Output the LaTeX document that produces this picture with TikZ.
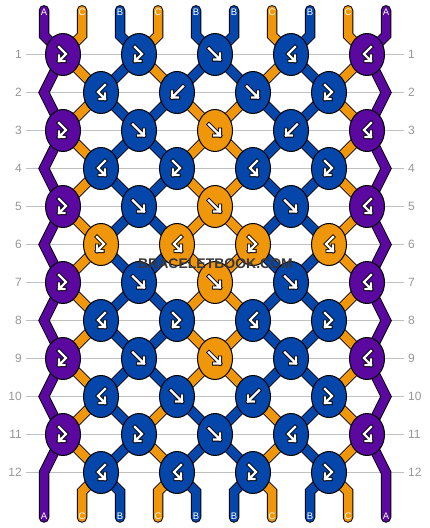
\documentclass[tikz,border=0pt]{standalone}
\usepackage{fontspec}
\setmainfont{Liberation Sans}
\usetikzlibrary{shapes.geometric}
\definecolor{cA}{RGB}{90,8,160}
\definecolor{cB}{RGB}{4,70,170}
\definecolor{cC}{RGB}{240,150,10}
\definecolor{gridgray}{RGB}{192,192,192}
\definecolor{numgray}{RGB}{150,150,150}
\definecolor{wmgray}{RGB}{55,55,60}
\pgfdeclarelayer{gridlayer}
\pgfdeclarelayer{ropelayer}
\pgfsetlayers{gridlayer,ropelayer,main}
\newcommand\bbglyph[1]{\draw[gout] #1; \draw[gin] #1;}
\tikzset{
  gout/.style={draw=black,line width=4pt,line cap=rect,line join=miter},
  gin/.style={draw=white,line width=2.2pt,line cap=rect,line join=miter},
  pics/glyphF/.style={code={\bbglyph{(-6,-6)--(5,5) (5,-1)--(5,5)--(-1,5)}}},
  pics/glyphB/.style={code={\bbglyph{(6,-6)--(-5,5) (-5,-1)--(-5,5)--(1,5)}}},
  pics/glyphFB/.style={code={\bbglyph{(-4,-7.5)--(3,-0.5)--(-4,6.5) (-4,1)--(-4,6.5)--(1.5,6.5)}}},
  pics/glyphBF/.style={code={\bbglyph{(4,-7.5)--(-3,-0.5)--(4,6.5) (4,1)--(4,6.5)--(-1.5,6.5)}}},
}
\newcommand\bbknot[4]{%
  \pgfmathsetmacro\kx{ifthenelse(mod(#1,2)==1,63,101)+76*(#2-1)}%
  \pgfmathsetmacro\ky{54.5+38*(#1-1)}%
  \node[bbknotstyle,fill=#3] (k-#1-#2) at (\kx,\ky) {};
  \pic at (k-#1-#2.center) {#4};
}
\newcommand\bbrope[3][]{\draw[ropeout,#1] #3; \draw[ropein,draw=#2,#1] #3;}
\begin{document}
\begin{tikzpicture}[x=1pt,y=-1pt,
  bbknotstyle/.style={ellipse,draw=black,line width=1pt,minimum width=35pt,minimum height=42pt,inner sep=0pt},
  ropeout/.style={draw=black,line width=10.5pt,line join=miter},
  ropein/.style={line width=8.5pt,line join=miter},
  strlab/.style={text=white,font=\fontsize{9.5}{9.5}\selectfont,inner sep=0pt},
  numlab/.style={text=numgray,font=\fontsize{12}{12}\selectfont,inner sep=0pt},
  gridline/.style={draw=gridgray,line width=1pt},
  wm/.style={font=\fontsize{14}{14}\selectfont\bfseries,inner sep=0pt},
]
\useasboundingbox (0,0) rectangle (430,528);

% knots
\bbknot{1}{1}{cA}{glyphFB}
\bbknot{1}{2}{cB}{glyphFB}
\bbknot{1}{3}{cB}{glyphF}
\bbknot{1}{4}{cB}{glyphBF}
\bbknot{1}{5}{cA}{glyphBF}
\bbknot{2}{1}{cB}{glyphBF}
\bbknot{2}{2}{cB}{glyphB}
\bbknot{2}{3}{cB}{glyphF}
\bbknot{2}{4}{cB}{glyphFB}
\bbknot{3}{1}{cA}{glyphFB}
\bbknot{3}{2}{cB}{glyphF}
\bbknot{3}{3}{cC}{glyphF}
\bbknot{3}{4}{cB}{glyphB}
\bbknot{3}{5}{cA}{glyphBF}
\bbknot{4}{1}{cB}{glyphBF}
\bbknot{4}{2}{cB}{glyphFB}
\bbknot{4}{3}{cB}{glyphBF}
\bbknot{4}{4}{cB}{glyphFB}
\bbknot{5}{1}{cA}{glyphFB}
\bbknot{5}{2}{cB}{glyphF}
\bbknot{5}{3}{cC}{glyphF}
\bbknot{5}{4}{cB}{glyphF}
\bbknot{5}{5}{cA}{glyphBF}
\bbknot{6}{1}{cC}{glyphFB}
\bbknot{6}{2}{cC}{glyphBF}
\bbknot{6}{3}{cC}{glyphFB}
\bbknot{6}{4}{cC}{glyphBF}
\bbknot{7}{1}{cA}{glyphFB}
\bbknot{7}{2}{cB}{glyphF}
\bbknot{7}{3}{cC}{glyphF}
\bbknot{7}{4}{cB}{glyphF}
\bbknot{7}{5}{cA}{glyphBF}
\bbknot{8}{1}{cB}{glyphBF}
\bbknot{8}{2}{cB}{glyphFB}
\bbknot{8}{3}{cB}{glyphBF}
\bbknot{8}{4}{cB}{glyphFB}
\bbknot{9}{1}{cA}{glyphFB}
\bbknot{9}{2}{cB}{glyphF}
\bbknot{9}{3}{cC}{glyphF}
\bbknot{9}{4}{cB}{glyphF}
\bbknot{9}{5}{cA}{glyphBF}
\bbknot{10}{1}{cB}{glyphBF}
\bbknot{10}{2}{cB}{glyphF}
\bbknot{10}{3}{cB}{glyphB}
\bbknot{10}{4}{cB}{glyphFB}
\bbknot{11}{1}{cA}{glyphFB}
\bbknot{11}{2}{cB}{glyphFB}
\bbknot{11}{3}{cB}{glyphF}
\bbknot{11}{4}{cB}{glyphBF}
\bbknot{11}{5}{cA}{glyphBF}
\bbknot{12}{1}{cB}{glyphBF}
\bbknot{12}{2}{cB}{glyphBF}
\bbknot{12}{3}{cB}{glyphFB}
\bbknot{12}{4}{cB}{glyphFB}

% row numbers and grid lines
\foreach \r in {1,...,12}{
  \pgfmathsetmacro\yy{54.5+38*(\r-1)}
  \node[numlab,anchor=east] (nl-\r) at (22,\yy) {\r};
  \node[numlab,anchor=west] (nr-\r) at (408,\yy) {\r};
  \coordinate (gl-\r) at (26,\yy);
  \coordinate (gr-\r) at (404,\yy);
  \begin{pgfonlayer}{gridlayer}
    \draw[gridline] (gl-\r) -- (gr-\r);
  \end{pgfonlayer}
}

% edge bend coordinates
\foreach \r in {2,4,...,12}{
  \pgfmathsetmacro\yy{54.5+38*(\r-1)}
  \coordinate (eL-\r) at (44,\yy);
  \coordinate (eR-\r) at (386,\yy);
}
% top and bottom string ends
\foreach \p in {1,...,10}{
  \pgfmathsetmacro\xx{44+38*(\p-1)}
  \coordinate (t-\p) at (\xx,10.3);
  \coordinate (tb-\p) at (\xx,35.5);
  \coordinate (b-\p) at (\xx,517.5);
  \coordinate (bb-\p) at (\xx,491.5);
}

\begin{pgfonlayer}{ropelayer}
% diagonal segments between rows
\foreach \r/\ca/\cb in {1/cC/cB,2/cB/cC,3/cB/cC,4/cB/cC,5/cB/cC,6/cB/cC,7/cB/cC,8/cB/cC,9/cB/cC,10/cC/cB,11/cC/cB}{
  \pgfmathtruncatemacro\s{\r+1}
  \ifodd\r
    \bbrope{cC}{(k-\r-1.center) -- (k-\s-1.center)}
    \bbrope{cB}{(k-\r-2.center) -- (k-\s-1.center)}
    \bbrope{\ca}{(k-\r-2.center) -- (k-\s-2.center)}
    \bbrope{\cb}{(k-\r-3.center) -- (k-\s-2.center)}
    \bbrope{\cb}{(k-\r-3.center) -- (k-\s-3.center)}
    \bbrope{\ca}{(k-\r-4.center) -- (k-\s-3.center)}
    \bbrope{cB}{(k-\r-4.center) -- (k-\s-4.center)}
    \bbrope{cC}{(k-\r-5.center) -- (k-\s-4.center)}
  \else
    \bbrope{cC}{(k-\r-1.center) -- (k-\s-1.center)}
    \bbrope{cB}{(k-\r-1.center) -- (k-\s-2.center)}
    \bbrope{\ca}{(k-\r-2.center) -- (k-\s-2.center)}
    \bbrope{\cb}{(k-\r-2.center) -- (k-\s-3.center)}
    \bbrope{\cb}{(k-\r-3.center) -- (k-\s-3.center)}
    \bbrope{\ca}{(k-\r-3.center) -- (k-\s-4.center)}
    \bbrope{cB}{(k-\r-4.center) -- (k-\s-4.center)}
    \bbrope{cC}{(k-\r-4.center) -- (k-\s-5.center)}
  \fi
}
% edge zigzags
\foreach \r in {1,3,5,7,9}{
  \pgfmathtruncatemacro\s{\r+1}
  \pgfmathtruncatemacro\u{\r+2}
  \bbrope{cA}{(k-\r-1.center) -- (eL-\s) -- (k-\u-1.center)}
  \bbrope{cA}{(k-\r-5.center) -- (eR-\s) -- (k-\u-5.center)}
}
% top strings
\foreach \p/\c/\col in {1/1/cA,2/1/cC,3/2/cB,4/2/cC,5/3/cB,6/3/cB,7/4/cC,8/4/cB,9/5/cC,10/5/cA}{
  \bbrope[line cap=round]{\col}{(t-\p) -- (tb-\p) -- (k-1-\c.center)}
}
% bottom strings
\foreach \p/\c/\col in {2/1/cC,3/1/cB,4/2/cC,5/2/cB,6/3/cB,7/3/cC,8/4/cB,9/4/cC}{
  \bbrope[line cap=round]{\col}{(k-12-\c.center) -- (bb-\p) -- (b-\p)}
}
\bbrope[line cap=round]{cA}{(k-11-1.center) -- (eL-12) -- (b-1)}
\bbrope[line cap=round]{cA}{(k-11-5.center) -- (eR-12) -- (b-10)}
\end{pgfonlayer}

% string labels
\foreach \p/\lab in {1/A,2/C,3/B,4/C,5/B,6/B,7/C,8/B,9/C,10/A}{
  \pgfmathsetmacro\xx{44+38*(\p-1)}
  \node[strlab] (lt-\p) at (\xx,12.7) {\lab};
  \node[strlab] (lb-\p) at (\xx,516.3) {\lab};
}

% watermark
\node[wm,text=wmgray] (wm) at (215.5,263.3) {BRACELETBOOK.COM};
\end{tikzpicture}
\end{document}
